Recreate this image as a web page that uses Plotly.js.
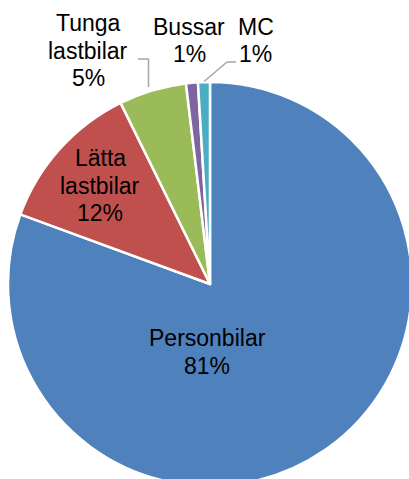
<!DOCTYPE html>
<html>
<head>
<meta charset="utf-8">
<script src="https://cdn.plot.ly/plotly-3.0.1.min.js"></script>
<style>
html,body{margin:0;padding:0;overflow:hidden;background:#fff;width:409px;height:479px;}
#chart{width:412px;height:486px;}
</style>
</head>
<body>
<div id="chart"></div>
<script>
const categories = ["Personbilar", "Lätta lastbilar", "Tunga lastbilar", "Bussar", "MC"];
const values = [80.6, 12.1, 5.4, 0.95, 0.95];
const percentLabels = ["81%", "12%", "5%", "1%", "1%"];
const labelLines = [["Personbilar"], ["Lätta", "lastbilar"], ["Tunga", "lastbilar"], ["Bussar"], ["MC"]];
const colors = ["#4F81BD", "#C0504D", "#9BBB59", "#8064A2", "#4BACC6"];

const W = 412, H = 486;
const FS = 23;
const px = x => x / W;
const py = y => 1 - y / H;

// label placement in figure pixels: x centre and baseline of the first line, line step
const labelPos = [[207, 346.7], [100, 166.7], [88, 31.7], [189, 35], [256, 35]];
const lineStep = 27.5;

const annotations = [];
categories.forEach((c, i) => {
  const lines = labelLines[i].concat([percentLabels[i]]);
  lines.forEach((t, j) => {
    const base = labelPos[i][1] + j * lineStep;
    annotations.push({
      xref: 'paper', yref: 'paper',
      x: px(labelPos[i][0]), y: py(base - 0.36 * FS),
      xanchor: 'center', yanchor: 'middle',
      text: t, showarrow: false,
      font: {family: 'Liberation Sans, Arial, sans-serif', size: FS, color: '#000'}
    });
  });
});

const lineStyle = {color: '#A6A6A6', width: 1.5};
const seg = (x0, y0, x1, y1) => ({type: 'line', xref: 'paper', yref: 'paper',
  x0: px(x0), y0: py(y0), x1: px(x1), y1: py(y1), line: lineStyle});
const shapes = [
  seg(138, 59, 148.5, 59), seg(148.5, 59, 148.5, 87),
  seg(236, 62, 227, 62), seg(227, 62, 204, 81.5)
];

const trace = {
  type: 'pie',
  labels: categories,
  values: values,
  sort: false,
  direction: 'clockwise',
  rotation: 0,
  textinfo: 'none',
  hoverinfo: 'none',
  marker: {colors: colors, line: {color: '#FFFFFF', width: 2.5}},
  domain: {x: [8 / W, 1], y: [0, 1 - 82 / H]},
  showlegend: false
};

Plotly.newPlot('chart', [trace], {
  width: W, height: H,
  margin: {l: 0, r: 0, t: 0, b: 0},
  paper_bgcolor: '#fff',
  showlegend: false,
  annotations: annotations,
  shapes: shapes
}, {staticPlot: true, displayModeBar: false});
</script>
</body>
</html>
